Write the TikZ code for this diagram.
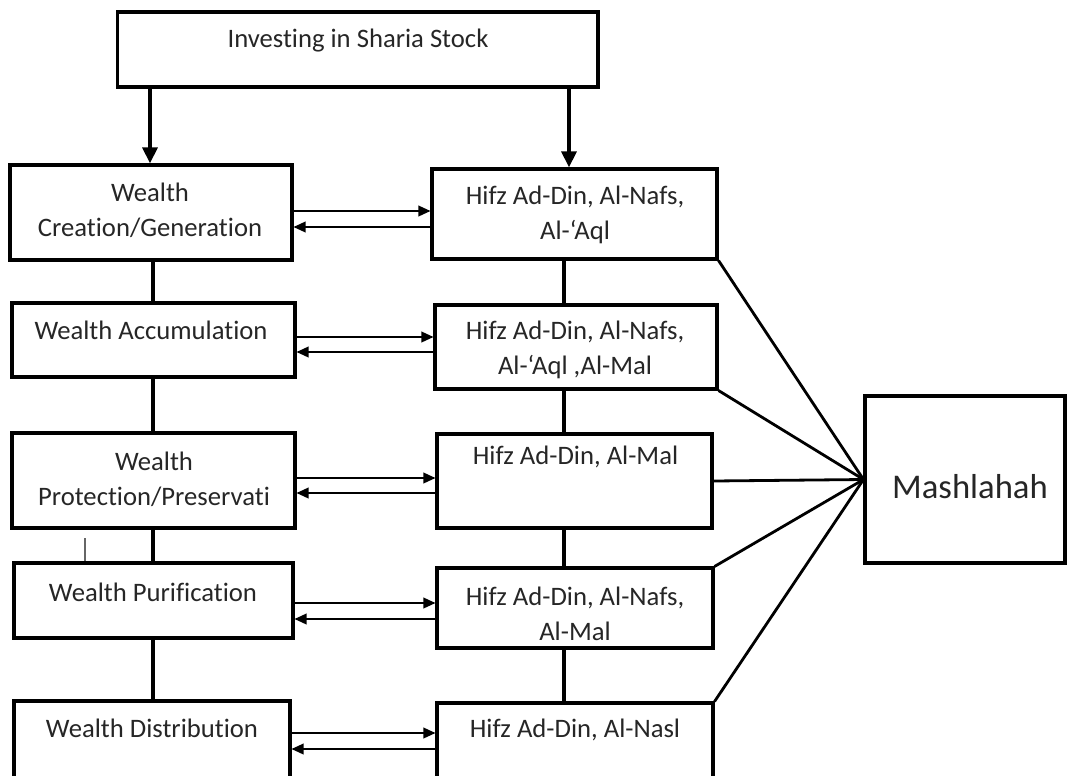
\documentclass[tikz,border=0pt]{standalone}
\usepackage{fontspec}
\setmainfont{Carlito}[Ligatures={TeX,NoCommon}]
\usetikzlibrary{arrows.meta}

\begin{document}
\begin{tikzpicture}[x=0.75pt, y=-0.75pt,
    box/.style={draw, line width=2.3pt, inner sep=0pt},
    sz/.style 2 args={minimum width=#1*0.75pt, minimum height=#2*0.75pt},
    txt/.style={font=\fontsize{20}{26.25}\selectfont, text=black!85, align=center, inner sep=0pt},
    down/.style={line width=3pt, -{Triangle[width=11pt,length=12pt]}},
    link/.style={line width=3.6pt},
    flow/.style={line width=1.1pt, -{Triangle[width=8pt,length=9pt]}},
    spoke/.style={line width=2.1pt}]
    \useasboundingbox (0,0) rectangle (1067,775);
    \clip (0,0) rectangle (1067,775);

    % Top box
    \node[box, sz={480.5}{75}] (top) at (357.75,49.5) {};
    \node[txt] (top-t) at (358,41) {Investing in Sharia Stock};

    % Wealth stages (left column)
    \node[box, sz={282}{95}] (L1) at (151,212.5) {};
    \node[box, sz={283}{74}] (L2) at (153.5,340) {};
    \node[box, sz={283}{95}] (L3) at (153.5,480.5) {};
    \node[box, sz={279}{75}] (L4) at (153.5,600.5) {};
    \node[box, sz={276}{95}] (L5) at (152,748.5) {};
    \node[txt] (L1-t) at (150,210.5) {Wealth\\Creation/Generation};
    \node[txt] (L2-t) at (151,330) {Wealth Accumulation};
    \node[txt] (L3-t) at (154,479.5) {Wealth\\Protection/Preservati};
    \node[txt] (L4-t) at (153,592) {Wealth Purification};
    \node[txt] (L5-t) at (152,728) {Wealth Distribution};

    % Maqasid (middle column)
    \node[box, sz={285}{90}] (M1) at (574.5,214) {};
    \node[box, sz={282}{84}] (M2) at (576,347) {};
    \node[box, sz={275}{94}] (M3) at (574.5,481) {};
    \node[box, sz={276}{80}] (M4) at (575,608) {};
    \node[box, sz={276}{97}] (M5) at (575,751.5) {};
    \node[txt] (M1-t) at (575,214.5) {Hifz Ad-Din, Al-Nafs,\\Al-‘Aql};
    \node[txt] (M2-t) at (575,349.5) {Hifz Ad-Din, Al-Nafs,\\Al-‘Aql ,Al-Mal};
    \node[txt] (M3-t) at (575.5,457) {Hifz Ad-Din, Al-Mal};
    \node[txt] (M4-t) at (575,613.5) {Hifz Ad-Din, Al-Nafs,\\Al-Mal};
    \node[txt] (M5-t) at (575,730) {Hifz Ad-Din, Al-Nasl};

    % Result
    \node[box, sz={200}{167}] (mash) at (965,479.5) {};
    \node[txt, font=\fontsize{26}{32}\selectfont] (mash-t) at (970,487) {Mashlahah};

    % Arrows from the top box
    \coordinate (lx) at (150,0);
    \coordinate (mx) at (569,0);
    \draw[down] (top.south -| lx) -- (L1.north -| lx);
    \draw[down] (top.south -| mx) -- (M1.north -| mx);

    % Column links
    \coordinate (lc) at (153,0);
    \coordinate (mc) at (564,0);
    \draw[link] (L1.south -| lc) -- (L2.north -| lc);
    \draw[link] (L2.south -| lc) -- (L3.north -| lc);
    \draw[link] (L3.south -| lc) -- (L4.north -| lc);
    \draw[link] (L4.south -| lc) -- (L5.north -| lc);
    \draw[link] (M1.south -| mc) -- (M2.north -| mc);
    \draw[link] (M2.south -| mc) -- (M3.north -| mc);
    \draw[link] (M3.south -| mc) -- (M4.north -| mc);
    \draw[link] (M4.south -| mc) -- (M5.north -| mc);

    % Two-way arrows
    \draw[flow] (L1.east |- 0,211) -- (M1.west |- 0,211);
    \draw[flow] (M1.west |- 0,227) -- (L1.east |- 0,227);
    \draw[flow] (L2.east |- 0,337) -- (M2.west |- 0,337);
    \draw[flow] (M2.west |- 0,352) -- (L2.east |- 0,352);
    \draw[flow] (L3.east |- 0,478) -- (M3.west |- 0,478);
    \draw[flow] (M3.west |- 0,493) -- (L3.east |- 0,493);
    \draw[flow] (L4.east |- 0,603) -- (M4.west |- 0,603);
    \draw[flow] (M4.west |- 0,619) -- (L4.east |- 0,619);
    \draw[flow] (L5.east |- 0,733) -- (M5.west |- 0,733);
    \draw[flow] (M5.west |- 0,749) -- (L5.east |- 0,749);

    % Lines into Mashlahah
    \draw[spoke] (M1.south east) -- (mash.west);
    \draw[spoke] (M2.south east) -- (mash.west);
    \draw[spoke] (M3.east) -- (mash.west);
    \draw[spoke] (M4.north east) -- (mash.west);
    \draw[spoke] (M5.north east) -- (mash.west);

    % stray tick
    \coordinate (tick) at (85,538);
    \draw[line width=0.8pt, black!60] (tick) -- (L4.north -| tick);
\end{tikzpicture}
\end{document}
